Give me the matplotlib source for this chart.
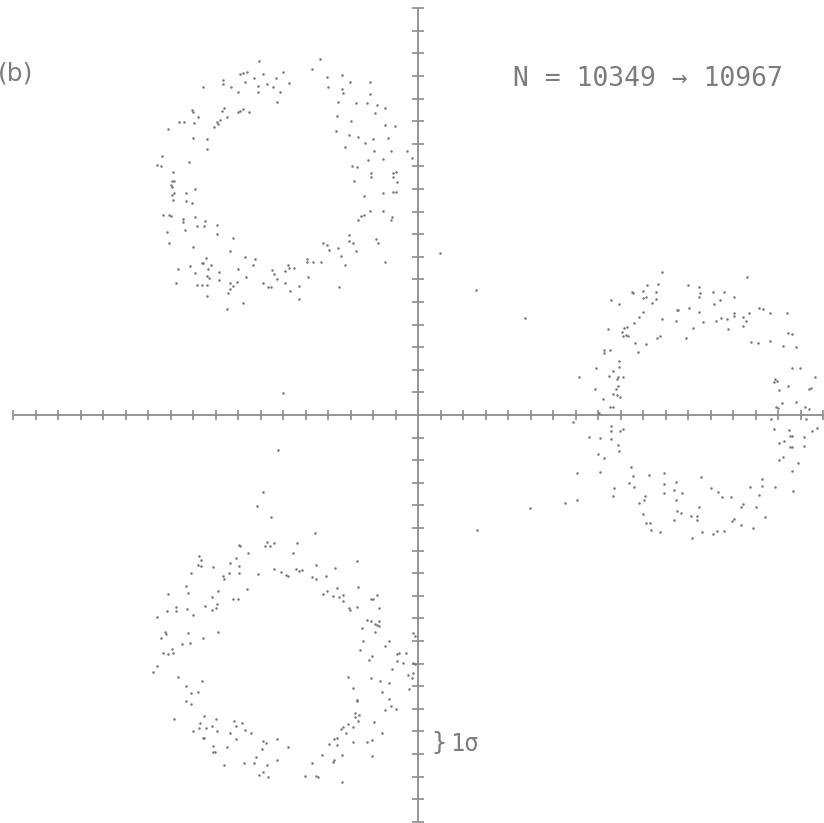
import numpy as np
import matplotlib
matplotlib.use("Agg")
import matplotlib.pyplot as plt

# axis extent and ticks, in units of sigma
axis_lim = 18
tick_pos = [t for t in range(-axis_lim, axis_lim + 1) if t != 0]

# upper-left ring (sigma units)
ring_ul_x = [-7.05, -4.36, -4.73, -5.99, -7.91, -7.76, -7.59, -6.87, -7.27, -7.69,
             -8.68, -8.68, -8.31, -7.99, -7.10, -7.10, -6.73, -6.43, -6.31, -5.73,
             -6.13, -6.25, -9.54, -4.06, -3.39, -3.02, -3.99, -3.36, -3.32, -2.13,
             -2.13, -3.54, -2.76, -2.25, -1.84, -1.47, -3.61, -2.99, -1.91, -1.47,
             -1.02, -3.64, -3.05, -2.65, -2.36, -2.01, -1.32, -3.24, -1.96, -1.21,
             -0.47, -0.28, -2.24, -1.54, -2.92, -2.73, -2.10, -2.09, -1.10, -0.98,
             -1.13, -0.95, -2.83, -1.54, -1.13, -0.98, -2.40, -2.53, -2.39, -2.68,
             -2.13, -1.54, -1.17, -1.20, -3.05, -3.05, -2.87, -2.76, -1.88, -1.76,
             -1.47, -4.21, -4.06, -3.96, -3.57, -3.42, -3.23, -3.51, -4.95, -4.95,
             -4.65, -4.33, -4.87, -5.29, -5.29, -5.76, -5.73, -5.91, -5.51, -6.50,
             -6.40, -6.28, -5.91, -5.69, -6.87, -6.68, -6.52, -7.24, -7.32, -7.69,
             -7.64, -7.99, -8.06, -8.36, -8.24, -8.36, -8.46, -8.50, -7.79, -8.84,
             -8.83, -9.27, -9.39, -9.20, -9.32, -9.42, -9.54, -9.61, -9.39, -9.61,
             -9.81, -9.39, -9.91, -10.13, -10.68, -10.76, -8.36, -8.21, -9.99, -11.05,
             -11.14, -10.34, -10.46, -10.46, -9.84, -9.51, -9.48, -8.95, -8.95, -9.93,
             -11.35, -11.05, -10.96, -10.90, -10.93, -10.84, -10.93, -10.98, -10.83, -10.95,
             -10.89, -10.31, -10.31, -10.03, -9.90, -11.61, -11.42, -11.39, -10.16, -11.13,
             -10.64, -10.39, -10.03, -10.01, -9.94, -9.76, -10.01, -9.39, -9.39, -9.05,
             -8.95, -8.80, -8.87, -8.50, -8.73, -8.62, -8.01, -7.91, -7.76, -7.50]
ring_ul_y = [15.68, 15.74, 15.31, 15.19, 15.07, 15.15, 15.18, 15.07, 14.90, 14.75,
             14.82, 14.65, 14.53, 14.29, 14.56, 14.31, 14.65, 14.53, 14.93, 14.68,
             14.28, 13.85, 14.50, 14.97, 15.04, 14.75, 14.50, 14.41, 14.23, 14.72,
             14.19, 13.86, 13.79, 13.82, 13.72, 13.57, 13.23, 13.02, 13.35, 12.83,
             12.79, 12.58, 12.37, 12.29, 12.02, 12.20, 12.24, 11.87, 11.70, 11.70,
             11.70, 11.39, 11.28, 11.31, 11.03, 10.99, 10.69, 10.52, 10.69, 10.77,
             10.55, 10.32, 10.37, 9.81, 9.88, 9.88, 9.71, 8.81, 8.83, 8.63,
             9.04, 9.04, 8.75, 8.63, 7.98, 7.70, 7.63, 7.26, 7.77, 7.60,
             6.78, 7.63, 7.52, 7.30, 7.37, 7.04, 6.62, 5.65, 6.89, 6.78,
             6.76, 6.76, 6.09, 5.71, 5.12, 6.64, 6.49, 6.39, 6.50, 6.42,
             6.22, 6.00, 5.86, 5.49, 5.83, 5.65, 5.65, 6.89, 6.65, 7.01,
             6.12, 6.45, 5.87, 5.83, 5.71, 5.59, 5.38, 4.69, 4.97, 6.33,
             5.97, 6.05, 6.15, 6.64, 6.47, 6.96, 6.71, 6.74, 5.75, 5.75,
             5.75, 5.28, 6.27, 6.59, 6.45, 5.86, 7.27, 7.82, 7.42, 7.60,
             8.08, 8.19, 8.55, 8.66, 8.35, 8.38, 8.60, 8.39, 8.01, 8.75,
             8.85, 8.83, 8.81, 9.51, 9.75, 9.82, 10.07, 10.18, 10.37, 10.37,
             10.77, 9.81, 9.48, 9.37, 10.01, 11.06, 11.02, 11.46, 11.18, 12.65,
             12.98, 12.98, 13.50, 13.41, 12.91, 13.20, 12.27, 12.21, 11.77, 12.76,
             12.98, 13.05, 12.88, 13.17, 13.45, 13.60, 13.39, 13.45, 13.55, 13.39]

# right-hand ring
ring_r_x = [10.83, 14.64, 9.50, 9.57, 9.99, 10.16, 10.68, 10.58, 10.01, 10.13,
            10.39, 10.58, 8.56, 8.92, 11.99, 12.49, 12.53, 12.50, 13.13, 13.61,
            13.42, 13.16, 14.04, 11.50, 11.57, 12.06, 12.50, 11.48, 10.86, 12.24,
            12.65, 13.23, 13.47, 13.75, 14.04, 14.04, 14.43, 14.58, 14.73, 14.43,
            13.76, 15.16, 15.35, 15.64, 16.39, 10.01, 9.82, 9.60, 9.27, 9.17,
            9.05, 9.23, 9.32, 9.10, 8.46, 9.64, 10.13, 9.76, 10.61, 10.76,
            11.91, 14.80, 15.13, 15.64, 16.46, 16.64, 16.24, 16.79, 8.28, 8.28,
            8.53, 7.91, 8.95, 8.95, 8.65, 9.13, 8.49, 8.83, 8.90, 8.90,
            7.87, 8.80, 8.65, 8.86, 8.98, 8.21, 8.53, 8.65, 7.17, 16.61,
            16.98, 17.64, 15.87, 15.97, 15.82, 16.04, 16.46, 17.45, 17.36, 16.16,
            16.79, 15.91, 16.01, 17.20, 17.39, 8.06, 6.89, 15.67, 17.24, 8.56,
            8.56, 8.98, 9.13, 8.58, 8.09, 7.60, 15.84, 16.49, 16.53, 16.64,
            17.17, 17.50, 17.72, 16.06, 16.27, 16.61, 16.53, 17.16, 16.04, 16.24,
            16.90, 7.99, 8.28, 8.90, 8.95, 7.08, 8.10, 6.53, 7.08, 16.61,
            9.45, 9.54, 10.28, 10.95, 9.39, 9.60, 8.73, 8.68, 10.95, 11.47,
            11.38, 11.75, 10.95, 10.07, 10.04, 9.84, 11.47, 12.56, 13.02, 13.35,
            13.53, 13.91, 14.76, 15.27, 15.27, 15.16, 15.87, 16.65, 10.01, 10.13,
            10.31, 10.34, 10.76, 11.53, 11.67, 11.38, 12.13, 12.39, 12.39, 12.49,
            14.36, 14.46, 15.01, 15.41, 13.97, 14.04, 14.34, 14.87, 12.16, 12.61,
            13.13, 13.30, 13.61]
ring_r_y = [6.31, 6.12, 5.43, 5.41, 5.50, 5.75, 5.80, 5.43, 5.19, 5.24,
            4.97, 5.12, 5.07, 4.91, 5.75, 5.65, 5.41, 5.21, 5.43, 5.46,
            5.09, 4.91, 5.21, 4.65, 4.65, 4.72, 4.57, 4.17, 4.23, 3.83,
            4.13, 4.16, 4.31, 4.25, 4.53, 4.38, 4.35, 4.17, 4.50, 3.95,
            3.79, 4.72, 4.69, 4.50, 4.53, 4.57, 4.35, 4.06, 3.91, 3.83,
            3.69, 3.54, 3.51, 3.50, 3.79, 3.20, 3.13, 2.80, 3.39, 3.50,
            3.39, 3.24, 3.20, 3.29, 3.61, 3.57, 3.05, 3.02, 2.88, 2.76,
            2.88, 2.06, 2.11, 2.39, 1.96, 1.70, 1.73, 1.58, 1.67, 1.28,
            1.14, 1.14, 0.93, 0.88, 0.78, 0.72, 0.37, 0.37, 1.70, 2.06,
            2.06, 1.70, 1.58, 1.52, 1.47, 1.11, 1.28, 1.18, 1.14, 0.52,
            0.56, 0.37, 0.29, 0.34, 0.25, 0.10, -0.31, -0.19, -0.18, -0.47,
            -0.71, -0.71, -0.62, -1.06, -1.00, -0.96, -0.62, -0.66, -0.93, -0.93,
            -0.96, -0.69, -0.59, -1.22, -1.15, -1.40, -1.40, -1.37, -1.99, -1.84,
            -2.14, -1.74, -1.92, -1.33, -1.58, -2.58, -2.51, -3.88, -3.76, -2.46,
            -2.29, -2.70, -2.65, -2.58, -2.99, -3.17, -3.22, -3.58, -3.05, -2.96,
            -3.32, -3.47, -3.47, -3.58, -3.76, -3.88, -3.76, -2.76, -3.22, -3.42,
            -3.64, -3.64, -3.17, -2.83, -3.14, -3.54, -3.17, -3.35, -4.38, -4.76,
            -4.76, -5.09, -5.18, -4.23, -4.35, -4.65, -4.47, -4.47, -4.65, -4.09,
            -4.09, -3.94, -4.09, -4.53, -4.68, -4.62, -4.87, -5.01, -5.46, -5.18,
            -5.27, -5.13, -5.13]

# lower-left ring
ring_ll_x = [-6.87, -7.14, -6.53, -4.58, -7.96, -7.91, -6.80, -6.70, -6.58, -6.39,
             -5.36, -5.54, -7.57, -9.73, -9.66, -9.76, -9.66, -9.10, -8.36, -8.10,
             -7.96, -7.96, -8.40, -8.68, -8.61, -10.09, -7.10, -6.40, -6.09, -5.87,
             -5.79, -5.44, -5.29, -5.14, -4.55, -4.70, -4.53, -4.10, -3.70, -2.73,
             -7.59, -8.21, -8.01, -8.90, -9.17, -9.47, -9.17, -8.99, -8.92, -10.31,
             -10.21, -11.10, -10.76, -10.76, -11.17, -10.25, -10.01, -11.61, -11.24, -11.20,
             -11.42, -10.21, -9.57, -8.90, -10.50, -10.13, -10.95, -10.87, -11.32, -11.13,
             -11.76, -11.59, -10.65, -10.33, -10.09, -9.79, -9.61, -10.31, -10.10, -10.83,
             -4.24, -4.03, -3.76, -3.61, -3.50, -3.32, -3.32, -3.02, -3.07, -2.73,
             -2.65, -2.10, -1.99, -1.81, -1.72, -2.28, -2.10, -1.91, -1.81, -1.72,
             -1.72, -1.91, -2.50, -2.46, -2.58, -2.06, -2.16, -1.27, -1.47, -0.95,
             -0.83, -0.53, -0.95, -0.65, -0.24, -0.13, -1.17, -0.21, -0.13, -0.43,
             -0.25, -0.22, -0.39, -3.10, -2.87, -2.73, -2.70, -2.80, -2.64, -2.80,
             -2.65, -2.09, -1.69, -1.27, -1.59, -1.27, -1.21, -1.47, -0.99, -3.10,
             -3.32, -2.90, -3.44, -3.61, -3.73, -3.94, -3.20, -3.59, -2.90, -2.28,
             -2.03, -1.94, -1.59, -2.06, -4.25, -3.76, -3.72, -3.39, -4.70, -3.36,
             -5.02, -4.55, -4.46, -10.01, -9.73, -9.69, -9.51, -9.42, -9.57, -9.51,
             -9.17, -8.99, -8.92, -9.13, -9.13, -9.02, -8.50, -8.61, -8.18, -8.09,
             -7.81, -8.36, -8.09, -7.69, -7.44, -6.87, -6.77, -6.28, -5.76, -6.95,
             -7.21, -7.29, -7.72, -6.73, -6.28, -7.05, -6.90, -6.68]
ring_ll_y = [-3.39, -4.03, -4.51, -5.24, -5.75, -5.80, -5.80, -5.60, -5.80, -5.65,
             -5.68, -6.09, -6.12, -6.24, -6.42, -6.64, -6.68, -6.74, -6.56, -6.34,
             -6.68, -7.01, -6.98, -7.12, -7.27, -7.01, -7.05, -6.81, -6.93, -7.08,
             -7.12, -6.83, -6.90, -6.86, -6.64, -7.15, -7.26, -7.12, -6.78, -6.45,
             -7.70, -8.14, -8.14, -7.77, -8.04, -8.45, -8.63, -8.53, -8.36, -7.57,
             -7.86, -7.92, -8.48, -8.66, -8.67, -8.60, -8.85, -8.92, -9.59, -9.71,
             -9.88, -9.63, -9.85, -9.62, -10.15, -10.10, -10.37, -10.55, -10.55, -10.59,
             -11.36, -11.09, -11.61, -11.99, -12.29, -12.24, -11.77, -12.65, -12.80, -13.44,
             -7.92, -7.77, -7.99, -7.67, -8.04, -8.22, -7.96, -8.63, -8.55, -8.51,
             -7.63, -8.16, -8.16, -7.96, -8.53, -9.07, -9.10, -9.26, -9.29, -9.10,
             -9.34, -9.59, -9.44, -10.00, -10.40, -10.66, -10.84, -10.00, -10.21, -10.59,
             -10.55, -10.55, -10.88, -10.99, -9.63, -9.76, -11.25, -10.96, -11.03, -11.50,
             -11.65, -11.40, -12.11, -11.58, -12.09, -12.61, -12.65, -13.20, -13.27, -13.35,
             -13.53, -11.65, -11.77, -11.87, -12.27, -12.58, -12.86, -13.05, -13.02, -13.69,
             -13.79, -13.79, -13.91, -14.28, -14.35, -14.56, -14.09, -14.60, -14.45, -14.45,
             -14.38, -13.60, -14.09, -15.09, -15.04, -15.34, -15.27, -15.04, -15.41, -16.25,
             -15.97, -15.96, -16.00, -13.97, -13.83, -13.64, -13.32, -13.86, -14.31, -14.31,
             -13.75, -13.44, -13.97, -14.65, -14.90, -14.90, -14.71, -15.49, -13.53, -13.75,
             -13.61, -14.06, -14.35, -13.94, -14.06, -14.41, -14.50, -14.35, -14.68, -14.79,
             -15.12, -15.38, -15.38, -15.47, -15.27, -15.93, -15.78, -16.00]

# isolated points between the rings
stray_x = [0.98, 2.58, 4.76, 2.62, 4.98, -6.00, -6.22]
stray_y = [7.17, 5.53, 4.29, -5.09, -4.12, 0.99, -1.55]

W, H = 824, 823
fig = plt.figure(figsize=(W / 100, H / 100), dpi=100)
ax = fig.add_axes([0, 0, 1, 1])

line_col = '#8c8c8c'
dot_col = '#767676'
text_col = '#7c7c7c'

# cross-shaped axes with a tick at every sigma
ax.plot([-axis_lim, axis_lim], [0, 0], color=line_col, lw=1.3, solid_capstyle='butt')
ax.plot([0, 0], [-axis_lim, axis_lim], color=line_col, lw=1.3, solid_capstyle='butt')
ax.plot(tick_pos, np.zeros(len(tick_pos)), ls='none', marker='|', ms=7, mew=1.2, color=line_col)
ax.plot(np.zeros(len(tick_pos)), tick_pos, ls='none', marker='_', ms=8, mew=1.2, color=line_col)

for xs, ys in [(ring_ul_x, ring_ul_y), (ring_r_x, ring_r_y),
               (ring_ll_x, ring_ll_y), (stray_x, stray_y)]:
    ax.plot(xs, ys, ls='none', marker='o', ms=1.8, mew=0, color=dot_col)

# px -> data mapping: origin at (418, 415), 22.5 px per sigma
ax.set_xlim((0 - 418) / 22.5, (W - 418) / 22.5)
ax.set_ylim((415 - H) / 22.6, 415 / 22.6)
ax.axis('off')

mono = 'DejaVu Sans Mono'
fig.text(-2 / W, 1 - 74 / H, '(b)', family='DejaVu Sans', fontsize=18,
         color=text_col, ha='left', va='center')
fig.text(513 / W, 1 - 79 / H, 'N = 10349 \u2192 10967', family=mono, fontsize=19,
         color=text_col, ha='left', va='center')
fig.text(431 / W, 1 - 743 / H, '}', family=mono, fontsize=18,
         color=text_col, ha='left', va='center')
fig.text(450 / W, 1 - 744 / H, '1\u03c3', family=mono, fontsize=17,
         color=text_col, ha='left', va='center')

fig.savefig('out.png', dpi=100, facecolor='white')
